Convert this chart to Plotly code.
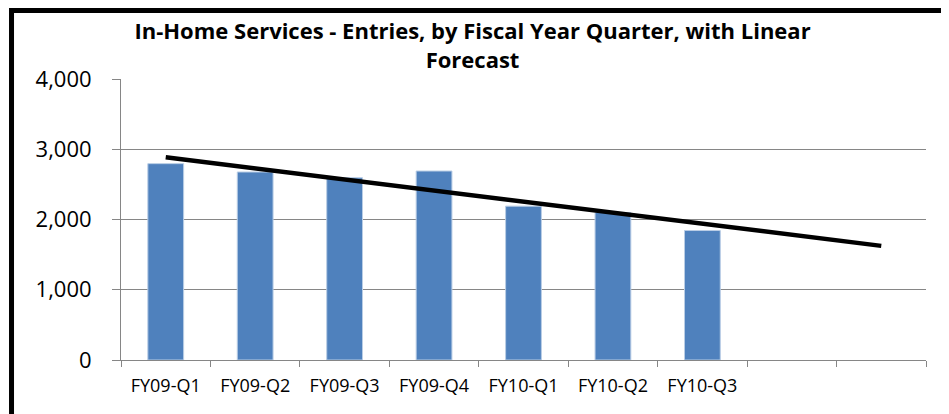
import numpy as np
import plotly.graph_objects as go

# quarters shown on the axis; the last two slots are the forecast periods
quarters = ["FY09-Q1", "FY09-Q2", "FY09-Q3", "FY09-Q4", "FY10-Q1", "FY10-Q2", "FY10-Q3"]
forecast_slots = ["F1", "F2"]
entries = [2795, 2676, 2595, 2690, 2190, 2100, 1843]

all_slots = quarters + forecast_slots
tick_labels = quarters + ["", ""]

# linear trend fitted on the observed quarters, extended over the forecast slots
x_obs = np.arange(1, len(entries) + 1)
slope, intercept = np.polyfit(x_obs, entries, 1)
x_all = np.arange(1, len(all_slots) + 1)
trend = slope * x_all + intercept

FONT = "Open Sans, Arial, sans-serif"

fig = go.Figure()
fig.add_trace(go.Bar(
    x=quarters, y=entries,
    marker=dict(color="#4F81BD", line=dict(color="#B9CDE5", width=1)),
    width=0.4, showlegend=False,
))
fig.add_trace(go.Scatter(
    x=all_slots, y=trend, mode="lines",
    line=dict(color="black", width=4.5),
    showlegend=False,
))

fig.update_layout(
    width=949, height=414,
    margin=dict(l=113, r=31, t=71, b=62),
    paper_bgcolor="white", plot_bgcolor="white",
    font=dict(family=FONT, color="black"),
    title=dict(
        text="<b>In-Home Services - Entries, by Fiscal Year Quarter, with Linear<br>Forecast</b>",
        x=0.4895, xanchor="center", y=0.924, yanchor="top",
        font=dict(size=22, family=FONT),
    ),
    shapes=[dict(
        type="rect", xref="paper", yref="paper",
        x0=-0.136, x1=1.1, y0=-0.3, y1=1.2438,
        line=dict(color="black", width=5), layer="above",
    )],
)
fig.update_xaxes(
    type="category", categoryorder="array", categoryarray=all_slots,
    tickvals=all_slots, ticktext=tick_labels,
    range=[-0.5, len(all_slots) - 0.5],
    showline=True, linecolor="#868686", linewidth=1,
    ticks="outside", tickson="boundaries", ticklen=6, tickcolor="#868686",
    showgrid=False, ticklabelstandoff=9,
    tickfont=dict(size=18, family=FONT),
)
fig.update_yaxes(
    range=[0, 4000], tickvals=[0, 1000, 2000, 3000, 4000],
    tickformat=",d",
    showline=True, linecolor="#868686", linewidth=1,
    ticks="outside", ticklen=8, tickcolor="#868686",
    showgrid=True, gridcolor="#868686", gridwidth=1,
    zeroline=False, ticklabelstandoff=16,
    tickfont=dict(size=22, family=FONT),
)

fig.write_html("out.html")
